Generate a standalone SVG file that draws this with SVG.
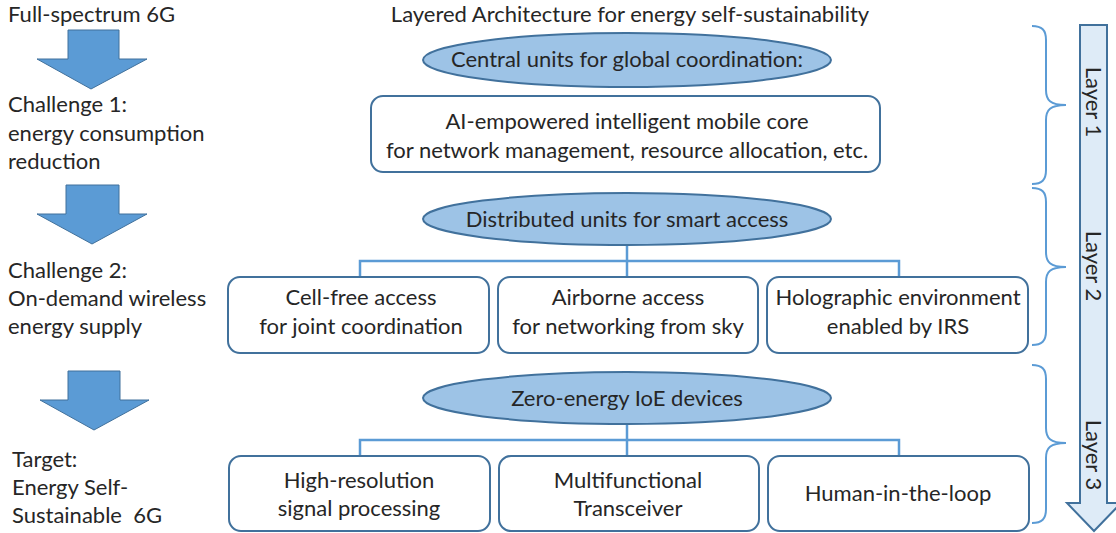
<svg xmlns="http://www.w3.org/2000/svg" width="1116" height="533" viewBox="0 0 1116 533">
<style>
text{font-family:Lato,"Liberation Sans",sans-serif;font-size:22px;fill:#262626}
.c{text-anchor:middle}
.ell{fill:#9DC3E6;stroke:#41719C;stroke-width:2}
.box{fill:#fff;stroke:#41719C;stroke-width:2}
.conn{fill:none;stroke:#5B9BD5;stroke-width:2.5}
.darr{fill:#5B9BD5;stroke:#41719C;stroke-width:1}
.brace{fill:none;stroke:#5B9BD5;stroke-width:2}
.big{fill:#DEEBF7;stroke:#41719C;stroke-width:2}
</style>
<rect width="1116" height="533" fill="#fff"/>
<g id="left-flow">
<text x="8" y="22">Full-spectrum 6G</text>
<polygon class="darr" points="68,30 119,30 119,59 147,59 91,89 37,59 68,59"/>
<text x="8" y="112">Challenge 1:</text>
<text x="8" y="141">energy consumption</text>
<text x="8" y="169">reduction</text>
<polygon class="darr" points="66,185 119,185 119,214 147,214 92,244 37,214 66,214"/>
<text x="8" y="278">Challenge 2:</text>
<text x="8" y="306">On-demand wireless</text>
<text x="8" y="334">energy supply</text>
<polygon class="darr" points="68,371 120,371 120,400 149,400 94,430 40,400 68,400"/>
<text x="12" y="467">Target:</text>
<text x="12" y="495">Energy Self-</text>
<text x="12" y="523" xml:space="preserve">Sustainable  6G</text>
</g>
<text class="c" x="630" y="22">Layered Architecture for energy self-sustainability</text>
<g id="connectors">
<path class="conn" d="M627,245 V277 M360,277 V261 H899 V277"/>
<path class="conn" d="M627,425 V456 M360,456 V440 H899 V456"/>
</g>
<g id="central">
<ellipse class="ell" cx="627" cy="60" rx="204" ry="27"/>
<text class="c" x="627" y="67">Central units for global coordination:</text>
</g>
<g id="core">
<rect class="box" x="371" y="96" width="509" height="76" rx="12"/>
<text class="c" x="627" y="129">AI-empowered intelligent mobile core</text>
<text class="c" x="627" y="158">for network management, resource allocation, etc.</text>
</g>
<g id="distributed">
<ellipse class="ell" cx="627" cy="219" rx="204" ry="26"/>
<text class="c" x="627" y="227">Distributed units for smart access</text>
</g>
<g id="cellfree">
<rect class="box" x="228" y="277" width="261" height="76" rx="12"/>
<text class="c" x="361" y="305">Cell-free access</text>
<text class="c" x="361" y="334">for joint coordination</text>
</g>
<g id="airborne">
<rect class="box" x="498" y="277" width="260" height="76" rx="12"/>
<text class="c" x="628" y="305">Airborne access</text>
<text class="c" x="628" y="334">for networking from sky</text>
</g>
<g id="holographic">
<rect class="box" x="767" y="277" width="261" height="76" rx="12"/>
<text class="c" x="898" y="305">Holographic environment</text>
<text class="c" x="898" y="334">enabled by IRS</text>
</g>
<g id="zeroenergy">
<ellipse class="ell" cx="627" cy="398" rx="204" ry="26"/>
<text class="c" x="627" y="406">Zero-energy IoE devices</text>
</g>
<g id="highres">
<rect class="box" x="229" y="456" width="261" height="75" rx="12"/>
<text class="c" x="359" y="488">High-resolution</text>
<text class="c" x="359" y="516">signal processing</text>
</g>
<g id="transceiver">
<rect class="box" x="499" y="456" width="260" height="75" rx="12"/>
<text class="c" x="628" y="488">Multifunctional</text>
<text class="c" x="628" y="516">Transceiver</text>
</g>
<g id="human">
<rect class="box" x="768" y="456" width="261" height="75" rx="12"/>
<text class="c" x="898" y="501">Human-in-the-loop</text>
</g>
<g id="braces">
<path class="brace" d="M1032,26 C1042,26 1046,30 1046,40 V90 C1046,100 1050,105 1066,105 C1050,105 1046,110 1046,120 V170 C1046,180 1042,184 1032,184"/>
<path class="brace" d="M1032,188 C1042,188 1046,192 1046,202 V252 C1046,262 1050,267 1066,267 C1050,267 1046,272 1046,282 V331 C1046,341 1042,345 1032,345"/>
<path class="brace" d="M1032,365 C1042,365 1046,369 1046,379 V428 C1046,438 1050,443 1066,443 C1050,443 1046,448 1046,458 V509 C1046,519 1042,523 1032,523"/>
</g>
<g id="layer-arrow">
<polygon class="big" points="1080,25 1107,25 1107,503 1121,503 1094,531 1067,503 1080,503"/>
<text class="c" transform="translate(1086,102) rotate(90)">Layer 1</text>
<text class="c" transform="translate(1086,266) rotate(90)">Layer 2</text>
<text class="c" transform="translate(1086,455) rotate(90)">Layer 3</text>
</g>
</svg>
